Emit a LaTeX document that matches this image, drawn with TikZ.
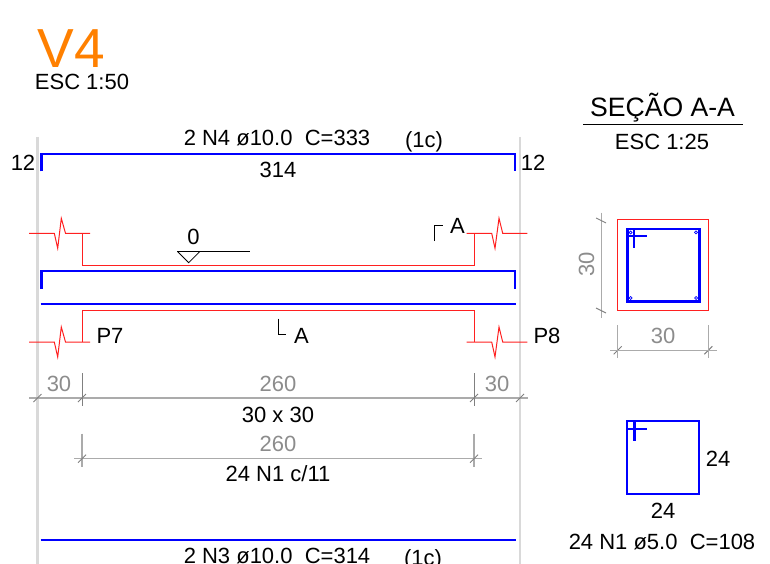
\documentclass[tikz,border=0pt]{standalone}
\usepackage{fontspec}
\setmainfont{Liberation Sans}
\tikzset{
  lbl/.style={inner sep=0pt,anchor=base,font=\fontsize{22}{22}\selectfont,text=black},
  dimlbl/.style={lbl,text=dimtxt},
  guide/.style={draw=guidegray,line width=2.6pt},
  rebar/.style={draw=barblue,line width=2.4pt,line cap=butt,line join=miter},
  rebarthin/.style={draw=barblue,line width=2.2pt},
  conc/.style={draw=concred,line width=1pt},
  dimline/.style={draw=dimgray,line width=1.5pt},
  dimthin/.style={draw=dimgray,line width=1.1pt},
  ticks/.style={draw=tickgray,line width=0.9pt},
  thin black/.style={draw=black,line width=0.8pt}
}
\definecolor{guidegray}{HTML}{D9D9D9}
\definecolor{barblue}{HTML}{0000FF}
\definecolor{concred}{HTML}{FF2020}
\definecolor{dimgray}{HTML}{ABABAB}
\definecolor{tickgray}{HTML}{808080}
\definecolor{dimtxt}{HTML}{8C8C8C}
\definecolor{titleorange}{HTML}{FF8000}
\begin{document}
\begin{tikzpicture}[x=1pt,y=-1pt]
\useasboundingbox (0,0) rectangle (770,564);
% guides
\draw[guide] (37.5,137) -- (37.5,564);
\draw[guide] (520,137) -- (520,564);
% concrete
\draw[conc] (29,233.3) -- (54.3,233.3) -- (57.7,248.3) -- (61.3,218.3) -- (65.5,233.3) -- (90,233.3);
\draw[conc] (466.7,233.3) -- (491.7,233.3) -- (495,248.3) -- (499,218.3) -- (502.7,233.3) -- (527.3,233.3);
\draw[conc] (82,233.3) -- (82,265.3) -- (474,265.3) -- (474,233.3);
\draw[conc] (29,342) -- (54.3,342) -- (57.7,357) -- (61.3,327) -- (65.5,342) -- (90,342);
\draw[conc] (466.7,342) -- (491.7,342) -- (495,357) -- (499,327) -- (502.7,342) -- (527.3,342);
\draw[conc] (82,342) -- (82,310.3) -- (474,310.3) -- (474,342);
% rebars
\draw[rebar] (41.4,171.3) -- (41.4,154) -- (514.8,154) -- (514.8,171.3);
\draw[rebar] (41.4,289) -- (41.4,271) -- (514.8,271) -- (514.8,289);
\draw[rebar] (40.5,304) -- (515.5,304);
\draw[rebar] (40.5,539.7) -- (515.5,539.7);
% level and section marks
\draw[thin black] (177.3,251.3) -- (249.5,251.3);
\draw[thin black] (177.3,251.3) -- (188.7,262.7) -- (200,251.3);
\draw[thin black] (434.3,241) -- (434.3,225.3) -- (442.7,225.3);
\draw[thin black] (278,318.5) -- (278,334) -- (286,334);
% dimensions
\draw[dimline] (29,398) -- (527.5,398);
\draw[ticks] (82,373) -- (82,405.7);
\draw[ticks] (474,373) -- (474,405.7);
\draw[dimthin] (74,458.7) -- (482,458.7);
\draw[dimthin] (82,433.5) -- (82,466.5);
\draw[dimthin] (474,433.5) -- (474,466.5);
\foreach \px/\py in {37.5/398,82/398,474/398,520/398,82/458.7,474/458.7,617.7/350.3,708.3/350.3}
  \draw[ticks] (\px-4,\py+4) -- (\px+4,\py-4);
% section
\draw[conc] (617.7,219.3) rectangle (708.3,310.3);
\draw[draw=barblue,line width=2.8pt] (627.3,229) rectangle (699.3,301.3);
\draw[rebarthin] (628,236) -- (646.7,236);
\draw[rebarthin] (634.3,229) -- (634.3,248.3);
\foreach \cx/\cy in {630.6/232.4,696/232.4,630.6/298,696/298}
  \draw[draw=barblue,line width=0.7pt] (\cx,\cy) circle (1.5);
\draw[dimthin] (601.7,212.5) -- (601.7,317.5);
\draw[ticks] (596,218) -- (606,223);
\draw[ticks] (596,308) -- (606,313);
\draw[dimthin] (610,350.3) -- (716.5,350.3);
\draw[dimthin] (617.7,325) -- (617.7,358);
\draw[dimthin] (708.3,325) -- (708.3,358);
% stirrup
\draw[draw=barblue,line width=2.3pt] (627,421.3) rectangle (699.3,494);
\draw[rebarthin] (627,429) -- (647,429);
\draw[rebarthin] (634.5,421.3) -- (634.5,441);
% title rule
\draw[draw=black,line width=0.9pt] (583,124.5) -- (743,124.5);
% text
\node[lbl,font=\fontsize{55}{55}\selectfont,text=titleorange] (title) at (71,68) {V4};
\node[lbl] (esc50) at (82,90) {ESC 1:50};
\node[lbl] (n4) at (277,145.5) {2 N4 ø10.0\ \ C=333};
\node[lbl] (n4c) at (424,148) {(1c)};
\node[lbl] (l314) at (278,177.5) {314};
\node[lbl] (hookl) at (23,171) {12};
\node[lbl] (hookr) at (533,171) {12};
\node[lbl] (lev) at (193.5,244) {0};
\node[lbl] (secA) at (457.5,233.5) {A};
\node[lbl] (secB) at (301.5,343) {A};
\node[lbl] (p7) at (110,343) {P7};
\node[lbl] (p8) at (547,343) {P8};
\node[dimlbl] (d30l) at (59,391) {30};
\node[dimlbl] (d260) at (278,391) {260};
\node[dimlbl] (d30r) at (497,391) {30};
\node[lbl] (sec) at (278,422) {30 x 30};
\node[dimlbl] (d260b) at (278,451.5) {260};
\node[lbl] (n1c) at (278,481) {24 N1 c/11};
\node[lbl] (n3) at (277,563) {2 N3 ø10.0\ \ C=314};
\node[lbl] (n3c) at (423,565) {(1c)};
\node[lbl,font=\fontsize{26.6}{26.6}\selectfont] (sectitle) at (662.5,117) {SEÇÃO A-A};
\node[lbl] (esc25) at (662,149.5) {ESC 1:25};
\node[dimlbl,rotate=90] (sv) at (594,264) {30};
\node[dimlbl] (sh) at (663,343) {30};
\node[lbl] (s24r) at (718,466) {24};
\node[lbl] (s24b) at (663,518) {24};
\node[lbl] (n1) at (662,549) {24 N1 ø5.0\ \ C=108};
\end{tikzpicture}
\end{document}
